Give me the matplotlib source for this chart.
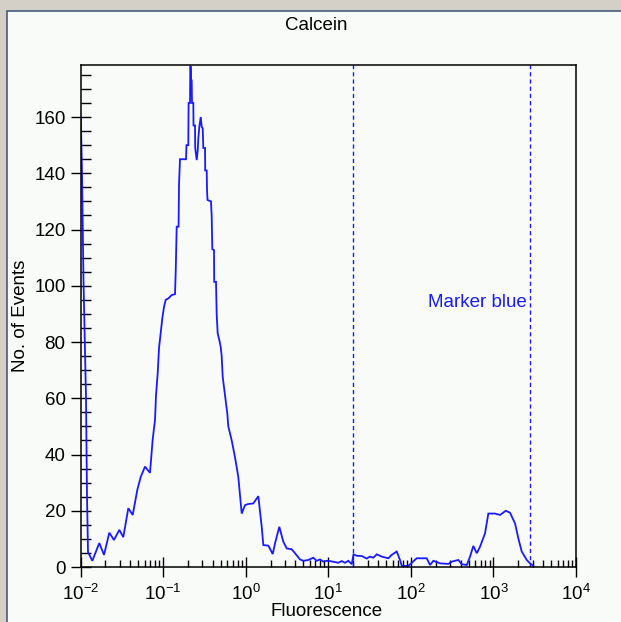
import numpy as np
import matplotlib
matplotlib.use('Agg')
import matplotlib.pyplot as plt
from matplotlib.patches import Rectangle
from matplotlib.ticker import LogLocator, MultipleLocator, NullFormatter

# Histogram trace (fluorescence, events)
fluor = [0.01008, 0.01043, 0.01087, 0.01166, 0.01199, 0.01233, 0.01390, 0.01689,
         0.01926, 0.02233, 0.02544, 0.02951, 0.03298, 0.03792, 0.04286, 0.04873,
         0.05358, 0.06041, 0.06943, 0.07486, 0.07983, 0.08208, 0.08607, 0.08924,
         0.09438, 0.09786, 0.1026, 0.1076, 0.1157, 0.1272, 0.1394, 0.1422,
         0.1462, 0.1540, 0.1559, 0.1603, 0.1895, 0.1921, 0.2020, 0.2037,
         0.2118, 0.2136, 0.2166, 0.2179, 0.2221, 0.2240, 0.2323, 0.2336,
         0.2436, 0.2449, 0.2554, 0.2626, 0.2671, 0.2747, 0.2856, 0.2936,
         0.3019, 0.3070, 0.3219, 0.3237, 0.3375, 0.3403, 0.3451, 0.3805,
         0.3880, 0.3946, 0.4137, 0.4160, 0.4374, 0.4460, 0.4586, 0.4796,
         0.4986, 0.5127, 0.5272, 0.5622, 0.5993, 0.6164, 0.6776, 0.7430,
         0.8147, 0.8956, 0.9820, 1.077, 1.238, 1.423, 1.564, 1.636,
         1.881, 2.126, 2.267, 2.556, 2.856, 3.142, 3.612, 3.959,
         4.551, 4.991, 5.737, 6.596, 7.253, 7.951, 8.716, 9.583,
         10.50, 13.24, 14.56, 15.96, 17.51, 19.24, 20.23, 22.12,
         25.43, 29.23, 32.05, 35.14, 38.64, 44.42, 53.40, 58.70,
         67.50, 73.98, 77.57, 93.26, 117.8, 155.8, 170.8, 187.3,
         225.7, 284.6, 312.8, 376.1, 413.3, 475.3, 521.1, 571.2,
         628.1, 688.5, 791.6, 868.0, 1046, 1203, 1410, 1589,
         1827, 2003, 2203, 2533, 2776, 3044]
events = [160, 140, 102, 60, 25, 5.3, 2.2, 8.5,
          4.3, 12.2, 9.6, 13.2, 10.6, 20.9, 18.5, 27.4,
          32, 35.7, 33.5, 45.4, 52.3, 61, 68.9, 77.8,
          84.3, 88.4, 92.5, 95, 95.5, 96.7, 97, 105,
          121, 121, 136, 145, 145, 150, 150, 165,
          165, 178, 178, 173, 173, 165, 165, 157,
          157, 149, 144.7, 148, 152.4, 156.5, 160, 156.5,
          156, 149, 149, 141, 141, 134, 130.5, 130,
          124.5, 113, 112.7, 101.4, 101.4, 89.6, 83, 80.7,
          78.3, 74.8, 67.6, 61, 54.6, 50, 45, 39,
          32, 19, 22, 22.4, 22.6, 25.2, 14.3, 7.8,
          7.6, 4.6, 8.4, 14.3, 9, 6.6, 6.3, 4.9,
          2.7, 2.2, 2.5, 3.3, 2.2, 2.7, 1.9, 2.2,
          2.1, 1.5, 2.1, 1.5, 2.2, 1.0, 4.5, 4.0,
          3.9, 3.0, 3.7, 3.3, 4.5, 3.7, 3.1, 4.3,
          5.5, 2.5, 0.4, 0.4, 3.1, 3.1, 0.7, 2.2,
          1.3, 1.1, 1.9, 2.5, 1.0, 0.7, 3.7, 7.5,
          4.9, 7.2, 12, 19, 19, 18.5, 20, 19.3,
          15.5, 10.2, 5.5, 2.5, 1.3, 0.4]

marker_lo = 20
marker_hi = 2770
marker_label = 'Marker blue'
marker_label_y = 94

W, H = 621, 622
plt.rcParams['font.family'] = ['Liberation Sans', 'DejaVu Sans']
plt.rcParams['font.size'] = 13.5
plt.rcParams['axes.unicode_minus'] = False
plt.rcParams['mathtext.fontset'] = 'custom'
plt.rcParams['mathtext.rm'] = 'Liberation Sans'
plt.rcParams['mathtext.it'] = 'Liberation Sans:italic'
plt.rcParams['mathtext.bf'] = 'Liberation Sans:bold'

bg = '#f9fbf9'
blue = '#1a1aff'

fig = plt.figure(figsize=(W / 100, H / 100), dpi=100, facecolor='#d4d0c8')

# window panel, behind everything
panel = Rectangle((7 / W, -0.05), 1.2, 1 - 10.5 / H + 0.05, transform=fig.transFigure,
                  facecolor=bg, edgecolor='#3a4f7a', linewidth=1.1, zorder=-10)
fig.patches.append(panel)

ax = fig.add_axes([80.5 / W, 1 - 567 / H, 495.5 / W, 502 / H])
ax.set_facecolor(bg)

ax.plot(fluor, events, color=blue, linewidth=1.3, solid_joinstyle='miter')

for xm in (marker_lo, marker_hi):
    ax.axvline(xm, color=blue, linewidth=1.0, linestyle=(0, (3, 2.2)))

ax.annotate(marker_label, xy=(marker_hi, marker_label_y), xytext=(-2, 0),
            textcoords='offset points', ha='right', va='center', color=blue)

ax.set_xscale('log')
ax.set_xlim(0.01, 1e4)
ax.set_ylim(0, 178.5)

ax.xaxis.set_major_locator(LogLocator(base=10, numticks=20))
ax.xaxis.set_minor_locator(LogLocator(base=10, subs=np.arange(2, 10), numticks=100))
ax.xaxis.set_minor_formatter(NullFormatter())
ax.yaxis.set_major_locator(MultipleLocator(20))
ax.yaxis.set_minor_locator(MultipleLocator(5))

ax.tick_params(axis='x', which='major', direction='inout', length=13.7, width=1,
               pad=5, colors='black', top=False)
ax.tick_params(axis='x', which='minor', direction='in', length=5, width=1, top=False)
ax.tick_params(axis='y', which='major', direction='inout', length=14.4, width=1,
               pad=3.6, colors='black', right=False)
ax.tick_params(axis='y', which='minor', direction='in', length=7.2, width=1, right=False)

for s in ax.spines.values():
    s.set_linewidth(1.1)
    s.set_color('black')

fig.text(316 / W, 1 - 25 / H, 'Calcein', ha='center', va='center')
fig.text(327 / W, 1 - 612 / H, 'Fluorescence', ha='center', va='center')
fig.text(21 / W, 1 - 316 / H, 'No. of Events', ha='center', va='center', rotation=90)

fig.savefig('out.png', dpi=100, facecolor=fig.get_facecolor())
